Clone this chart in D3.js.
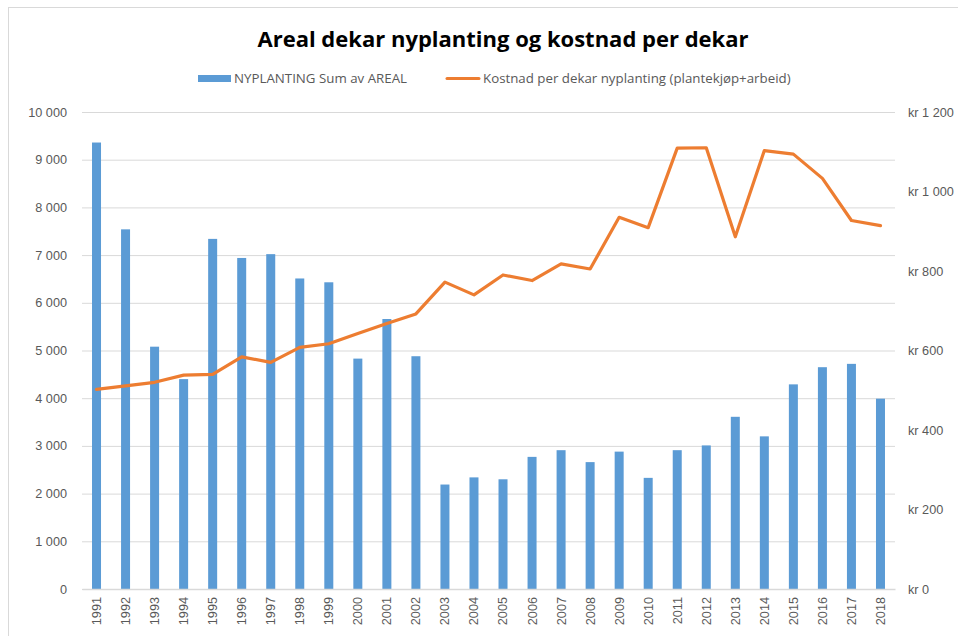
<!DOCTYPE html>
<html>
<head>
<meta charset="utf-8">
<script src="https://cdn.jsdelivr.net/npm/d3@7"></script>
<style>
  body { margin: 0; background: #fff; }
  svg { display: block; font-family: "Open Sans", "Liberation Sans", sans-serif; }
</style>
</head>
<body>
<svg id="chart" width="958" height="636"></svg>
<script>
// data
const years = [1991, 1992, 1993, 1994, 1995, 1996, 1997, 1998, 1999, 2000,
  2001, 2002, 2003, 2004, 2005, 2006, 2007, 2008, 2009, 2010,
  2011, 2012, 2013, 2014, 2015, 2016, 2017, 2018];
const areal = [9360, 7540, 5080, 4400, 7340, 6940, 7020, 6510, 6430, 4830,
  5660, 4880, 2190, 2340, 2300, 2770, 2910, 2660, 2880, 2330,
  2910, 3010, 3610, 3200, 4290, 4650, 4720, 3990];
const kostnad = [502, 511, 520, 538, 540, 584, 570, 608, 617, 643,
  668, 692, 772, 740, 790, 776, 818, 805, 935, 909,
  1109, 1110, 886, 1103, 1094, 1033, 927, 914];
const leftTicks = [0, 1000, 2000, 3000, 4000, 5000, 6000, 7000, 8000, 9000, 10000];
const rightTicks = [0, 200, 400, 600, 800, 1000, 1200];

const titleText = "Areal dekar nyplanting og kostnad per dekar";
const barName = "NYPLANTING Sum av AREAL";
const lineName = "Kostnad per dekar nyplanting (plantekjøp+arbeid)";

const svg = d3.select("#chart");
const margin = {top: 112, right: 63, bottom: 47, left: 82};
const width = 958, height = 636;
const innerW = width - margin.left - margin.right;
const innerH = height - margin.top - margin.bottom;

// outer frame
svg.append("rect")
  .attr("x", 8.5).attr("y", 7.5)
  .attr("width", 980).attr("height", 660)
  .attr("fill", "none").attr("stroke", "#d9d9d9");

const fmt = v => d3.format(",")(v).replace(/,/g, " ");

const x = d3.scaleBand().domain(years).range([0, innerW]).paddingInner(0.69).paddingOuter(0.345);
const y = d3.scaleLinear().domain([0, 10000]).range([innerH, 0]);
const y2 = d3.scaleLinear().domain([0, 1200]).range([innerH, 0]);

const g = svg.append("g").attr("transform", `translate(${margin.left},${margin.top})`);

// grid
g.append("g")
  .call(d3.axisLeft(y).tickValues(leftTicks).tickSize(-innerW).tickFormat(""))
  .call(s => s.select(".domain").remove())
  .call(s => s.selectAll("line").attr("stroke", "#d9d9d9").attr("stroke-width", 1));

// bars
g.selectAll(".bar").data(areal).enter().append("rect")
  .attr("class", "bar")
  .attr("x", (d, i) => x(years[i]))
  .attr("y", d => y(d))
  .attr("width", x.bandwidth())
  .attr("height", d => innerH - y(d))
  .attr("fill", "#5b9bd5");

// line
const line = d3.line()
  .x((d, i) => x(years[i]) + x.bandwidth() / 2)
  .y(d => y2(d));
g.append("path")
  .datum(kostnad)
  .attr("d", line)
  .attr("fill", "none")
  .attr("stroke", "#ed7d31")
  .attr("stroke-width", 3.2)
  .attr("stroke-linejoin", "round")
  .attr("stroke-linecap", "round");

// left axis
g.append("g")
  .call(d3.axisLeft(y).tickValues(leftTicks).tickSize(0).tickPadding(15).tickFormat(fmt))
  .call(s => s.select(".domain").remove())
  .call(s => s.selectAll("text").attr("fill", "#595959").style("font-size", "12.7px"));

// right axis
g.append("g")
  .attr("transform", `translate(${innerW},0)`)
  .call(d3.axisRight(y2).tickValues(rightTicks).tickSize(0).tickPadding(13).tickFormat(d => "kr " + fmt(d)))
  .call(s => s.select(".domain").remove())
  .call(s => s.selectAll("text").attr("fill", "#595959").style("font-size", "12.7px"));

// bottom axis
const xa = g.append("g")
  .attr("transform", `translate(0,${innerH})`)
  .call(d3.axisBottom(x).tickSize(0).tickPadding(0));
xa.select(".domain").attr("stroke", "#d9d9d9").attr("stroke-width", 1.5);
xa.selectAll("text")
  .attr("fill", "#595959")
  .style("font-size", "12.7px")
  .attr("text-anchor", "end")
  .attr("transform", "rotate(-90)")
  .attr("x", -8)
  .attr("y", 0)
  .attr("dy", "0.35em");

// title
svg.append("text")
  .attr("x", 503).attr("y", 47)
  .attr("text-anchor", "middle")
  .attr("fill", "#000")
  .style("font-size", "22px")
  .style("font-weight", "bold")
  .text(titleText);

// legend
const lg = svg.append("g");
lg.append("rect").attr("x", 198).attr("y", 75).attr("width", 33).attr("height", 7).attr("fill", "#5b9bd5");
lg.append("text").attr("x", 234).attr("y", 83).attr("fill", "#595959").style("font-size", "13.3px").text(barName);
lg.append("line").attr("x1", 447).attr("x2", 479).attr("y1", 78.5).attr("y2", 78.5)
  .attr("stroke", "#ed7d31").attr("stroke-width", 3).attr("stroke-linecap", "round");
lg.append("text").attr("x", 483).attr("y", 83).attr("fill", "#595959").style("font-size", "13.3px").text(lineName);
</script>
</body>
</html>
